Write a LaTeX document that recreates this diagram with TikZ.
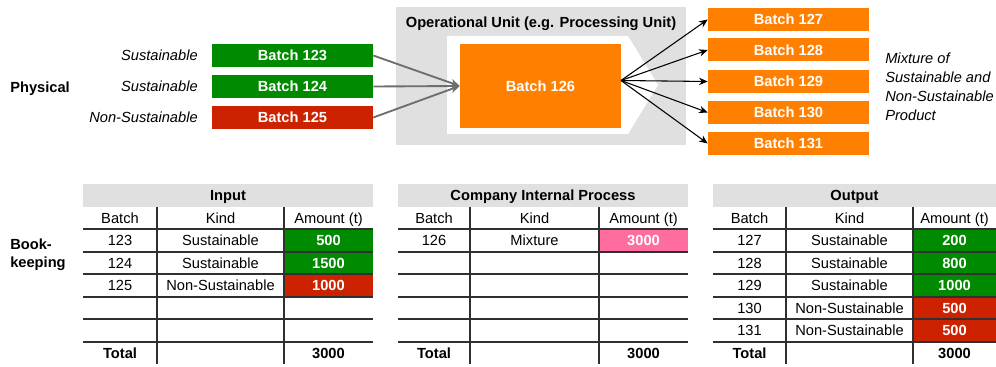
\documentclass[tikz,border=0pt]{standalone}
\usepackage{fontspec}
\setmainfont{Liberation Sans}
\usetikzlibrary{arrows.meta,calc}
\definecolor{sgreen}{HTML}{008A00}
\definecolor{sred}{HTML}{CC2200}
\definecolor{sorange}{HTML}{FF8000}
\definecolor{spink}{HTML}{FF6CA0}
\definecolor{sgray}{HTML}{E0E0E0}
\definecolor{agray}{HTML}{6E6E6E}
\definecolor{lgray}{HTML}{303030}
\newcommand\fs{\fontsize{11}{13}\selectfont}
\newcommand\bktable[6]{%
  \fill[sgray] (#2,184) rectangle (#5,207);
  \node[txt,font=\fs\bfseries] (#1title) at ({(#2+#5)/2},195.5) {#6};
  \foreach \yy in {229,252,274,297,319,342} \draw[tline] (#2,\yy) -- (#5,\yy);
  \draw[tline] (#3,207) -- (#3,364);
  \draw[tline] (#4,207) -- (#4,364);
  \node[txt] (#1hb) at ({(#2+#3)/2},218.5) {Batch};
  \node[txt] (#1hk) at ({(#3+#4)/2},218.5) {Kind};
  \node[txt] (#1ha) at ({(#4+#5)/2},218.5) {Amount (t)};
  \node[txt,font=\fs\bfseries] (#1tot) at ({(#2+#3)/2},353) {Total};
  \node[txt,font=\fs\bfseries] (#1sum) at ({(#4+#5)/2},353) {3000};
}
\begin{document}
\begin{tikzpicture}[x=0.75pt,y=-0.75pt,font=\fs,
  txt/.style={inner sep=0pt,text height=7.9pt,text depth=0pt},
  batchbox/.style={fill=#1,text=white,font=\fs\bfseries,minimum width=120.75pt,
    minimum height=17.25pt,inner sep=0pt,text height=7.9pt,text depth=0pt},
  garrow/.style={draw=agray,line width=1.4pt,-{Stealth[length=7pt,width=6pt]}},
  barrow/.style={draw=black,line width=0.8pt,-{Stealth[length=6.5pt,width=5.5pt]}},
  tline/.style={draw=lgray,line width=0.8pt},
  cellval/.style={txt,text=white,font=\fs\bfseries}]
\useasboundingbox (0,0) rectangle (996,367);

% ---------- Physical ----------
\node[txt,anchor=west,font=\fs\bfseries] (phys) at (10,87) {Physical};

\fill[sgray] (396,7) rectangle (686,145);
\fill[white] (447,36) -- (628,36) -- (658,85) -- (628,134) -- (447,134) -- cycle;
\node[txt,font=\fs\bfseries] (unit) at (541,22) {Operational Unit (e.g. Processing Unit)};

\node[batchbox=sgreen] (b123) at (292.5,55.5) {Batch 123};
\node[batchbox=sgreen] (b124) at (292.5,86.5) {Batch 124};
\node[batchbox=sred]   (b125) at (292.5,117.5) {Batch 125};

\node[txt,anchor=east,font=\fs\itshape] (k123) at (198,55.5) {Sustainable};
\node[txt,anchor=east,font=\fs\itshape] (k124) at (198,86.5) {Sustainable};
\node[txt,anchor=east,font=\fs\itshape] (k125) at (198,117.5) {Non-Sustainable};

\node[batchbox=sorange,minimum height=63pt] (b126) at (540.5,86) {Batch 126};

\node[batchbox=sorange] (b127) at (788.5,19.5) {Batch 127};
\node[batchbox=sorange] (b128) at (788.5,50) {Batch 128};
\node[batchbox=sorange] (b129) at (788.5,81.5) {Batch 129};
\node[batchbox=sorange] (b130) at (788.5,112.5) {Batch 130};
\node[batchbox=sorange] (b131) at (788.5,143.5) {Batch 131};

\draw[garrow] (b123.east) -- (b126.west);
\draw[garrow] (b124.east) -- (b126.west);
\draw[garrow] (b125.east) -- (b126.west);

\coordinate (fan) at (621,80.5);
\foreach \b in {127,128,129,130,131} \draw[barrow] (fan) -- (b\b.west);

\node[inner sep=0pt,anchor=north west,align=left,font=\fontsize{11}{14.25}\selectfont\itshape]
  (mix) at (885,52.5) {Mixture of\\Sustainable and\\Non-Sustainable\\Product};

% ---------- Bookkeeping ----------
\node[inner sep=0pt,anchor=north west,align=left,font=\fontsize{11}{13.5}\selectfont\bfseries]
  (book) at (10,238.5) {Book-\\keeping};

% coloured cells
\fill[sgreen] (284,229) rectangle (373,252);
\fill[sgreen] (284,252) rectangle (373,274);
\fill[sred]   (284,274) rectangle (373,297);
\fill[spink]  (599,229) rectangle (688,252);
\fill[sgreen] (913,229) rectangle (996,252);
\fill[sgreen] (913,252) rectangle (996,274);
\fill[sgreen] (913,274) rectangle (996,297);
\fill[sred]   (913,297) rectangle (996,319);
\fill[sred]   (913,319) rectangle (996,342);

\bktable{in}{83}{157}{284}{373}{Input}
\bktable{cp}{398}{470}{599}{688}{Company Internal Process}
\bktable{out}{713}{786}{913}{996}{Output}

% Input rows
\node[txt] (in1b) at (120,240.5) {123};
\node[txt] (in1k) at (220.5,240.5) {Sustainable};
\node[cellval] (in1a) at (328.5,240.5) {500};
\node[txt] (in2b) at (120,263) {124};
\node[txt] (in2k) at (220.5,263) {Sustainable};
\node[cellval] (in2a) at (328.5,263) {1500};
\node[txt] (in3b) at (120,285.5) {125};
\node[txt] (in3k) at (220.5,285.5) {Non-Sustainable};
\node[cellval] (in3a) at (328.5,285.5) {1000};

% Company rows
\node[txt] (cp1b) at (434,240.5) {126};
\node[txt] (cp1k) at (534.5,240.5) {Mixture};
\node[cellval] (cp1a) at (643.5,240.5) {3000};

% Output rows
\node[txt] (o1b) at (749.5,240.5) {127};
\node[txt] (o1k) at (849.5,240.5) {Sustainable};
\node[cellval] (o1a) at (954.5,240.5) {200};
\node[txt] (o2b) at (749.5,263) {128};
\node[txt] (o2k) at (849.5,263) {Sustainable};
\node[cellval] (o2a) at (954.5,263) {800};
\node[txt] (o3b) at (749.5,285.5) {129};
\node[txt] (o3k) at (849.5,285.5) {Sustainable};
\node[cellval] (o3a) at (954.5,285.5) {1000};
\node[txt] (o4b) at (749.5,308) {130};
\node[txt] (o4k) at (849.5,308) {Non-Sustainable};
\node[cellval] (o4a) at (954.5,308) {500};
\node[txt] (o5b) at (749.5,330.5) {131};
\node[txt] (o5k) at (849.5,330.5) {Non-Sustainable};
\node[cellval] (o5a) at (954.5,330.5) {500};
\end{tikzpicture}
\end{document}
